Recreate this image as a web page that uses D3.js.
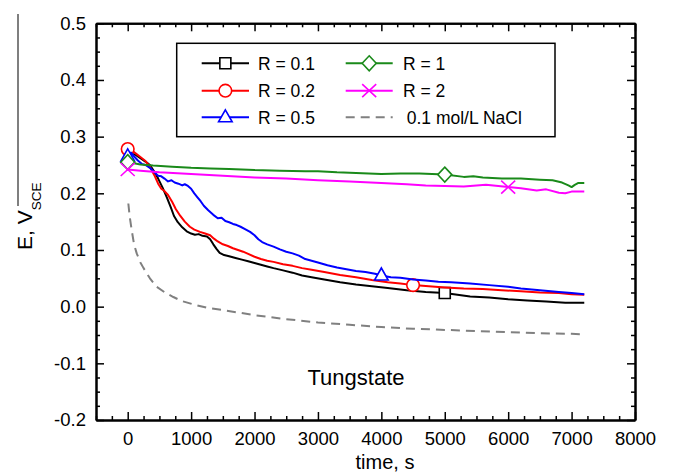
<!DOCTYPE html>
<html>
<head>
<meta charset="utf-8">
<script src="https://cdn.jsdelivr.net/npm/d3@7"></script>
<style>
  body { margin: 0; background: #fff; }
  text { font-family: Arial, "Liberation Sans", sans-serif; fill: #000; }
</style>
</head>
<body>
<svg id="chart" width="675" height="474"></svg>
<script>
// time (s), potential (V vs SCE)
const r01 = [[0,0.264],[50,0.27],[120,0.268],[200,0.262],[280,0.256],[350,0.25],[420,0.238],[480,0.226],[550,0.21],[620,0.192],[680,0.175],[730,0.16],[790,0.149],[860,0.14],[930,0.133],[1000,0.129],[1060,0.127],[1120,0.128],[1180,0.125],[1250,0.124],[1300,0.119],[1350,0.11],[1400,0.102],[1450,0.095],[1520,0.091],[1600,0.089],[1700,0.086],[1800,0.083],[1900,0.08],[2000,0.077],[2100,0.074],[2200,0.071],[2300,0.068],[2450,0.064],[2600,0.06],[2750,0.055],[2900,0.052],[3100,0.048],[3350,0.043],[3600,0.039],[3850,0.036],[4100,0.033],[4400,0.029],[4700,0.026],[5000,0.024],[5200,0.021],[5400,0.018],[5700,0.016],[6000,0.013],[6300,0.011],[6600,0.009],[6900,0.007],[7200,0.007]];
const r02 = [[0,0.278],[60,0.276],[130,0.27],[200,0.264],[280,0.257],[350,0.247],[420,0.232],[480,0.217],[530,0.208],[580,0.204],[636,0.197],[700,0.185],[760,0.172],[830,0.16],[900,0.15],[980,0.141],[1050,0.136],[1140,0.132],[1220,0.129],[1300,0.126],[1360,0.12],[1420,0.115],[1500,0.11],[1580,0.107],[1660,0.103],[1740,0.1],[1820,0.097],[1900,0.093],[2000,0.088],[2100,0.084],[2200,0.081],[2300,0.079],[2450,0.075],[2600,0.072],[2750,0.068],[2900,0.065],[3100,0.061],[3350,0.056],[3600,0.052],[3850,0.047],[4100,0.043],[4300,0.041],[4500,0.038],[4750,0.036],[5000,0.034],[5300,0.032],[5600,0.031],[5900,0.029],[6200,0.027],[6500,0.025],[6800,0.024],[7000,0.022],[7200,0.021]];
const r05 = [[0,0.265],[50,0.272],[110,0.264],[160,0.258],[220,0.252],[280,0.25],[350,0.245],[420,0.237],[480,0.231],[530,0.23],[580,0.226],[636,0.221],[690,0.223],[740,0.219],[800,0.217],[860,0.214],[900,0.216],[950,0.213],[1000,0.208],[1050,0.2],[1100,0.193],[1150,0.186],[1200,0.178],[1270,0.17],[1350,0.162],[1420,0.156],[1480,0.157],[1540,0.151],[1600,0.149],[1660,0.146],[1720,0.144],[1780,0.141],[1850,0.137],[1930,0.132],[2000,0.126],[2060,0.119],[2120,0.114],[2200,0.11],[2300,0.106],[2400,0.101],[2500,0.097],[2600,0.094],[2700,0.09],[2800,0.084],[2900,0.081],[3000,0.078],[3150,0.073],[3300,0.069],[3450,0.066],[3600,0.063],[3750,0.061],[3900,0.058],[4000,0.055],[4150,0.052],[4300,0.051],[4500,0.048],[4700,0.046],[4900,0.044],[5100,0.043],[5400,0.041],[5700,0.038],[6000,0.035],[6200,0.032],[6500,0.029],[6800,0.026],[7000,0.024],[7200,0.022]];
const r1 = [[0,0.255],[100,0.253],[200,0.251],[400,0.249],[700,0.247],[1000,0.245],[1300,0.244],[1600,0.243],[2000,0.241],[2400,0.24],[2800,0.239],[3000,0.239],[3300,0.237],[3600,0.236],[4000,0.234],[4300,0.235],[4600,0.235],[5000,0.233],[5300,0.229],[5450,0.23],[5600,0.228],[5900,0.226],[6200,0.226],[6500,0.224],[6700,0.223],[6850,0.219],[6950,0.214],[7000,0.211],[7050,0.215],[7100,0.218],[7200,0.218]];
const r2 = [[0,0.242],[200,0.24],[500,0.237],[1000,0.234],[1500,0.231],[2000,0.228],[2500,0.226],[3000,0.223],[3500,0.221],[4000,0.218],[4400,0.216],[4700,0.214],[5000,0.213],[5300,0.212],[5650,0.215],[6000,0.211],[6200,0.209],[6450,0.205],[6600,0.207],[6800,0.201],[6900,0.2],[7000,0.203],[7200,0.203]];
const nacl = [[10,0.182],[30,0.16],[63,0.135],[100,0.11],[142,0.094],[200,0.078],[250,0.068],[350,0.05],[457,0.035],[600,0.024],[720,0.017],[850,0.01],[1035,0.004],[1250,-0.002],[1500,-0.006],[2000,-0.015],[2500,-0.022],[3000,-0.028],[3500,-0.032],[4000,-0.036],[4500,-0.039],[5000,-0.041],[5500,-0.043],[6000,-0.045],[6500,-0.047],[7000,-0.048],[7200,-0.049]];

const seriesNames = ["R = 0.1", "R = 0.2", "R = 0.5", "R = 1", "R = 2", "0.1 mol/L NaCl"];
const markerTimes = [[5000], [0, 4500], [0, 4000], [0, 5000], [0, 6000], []];

const xTicks = [0, 1000, 2000, 3000, 4000, 5000, 6000, 7000, 8000];
const yTicks = [-0.2, -0.1, 0.0, 0.1, 0.2, 0.3, 0.4, 0.5];

const series = [
  {data: r01, color: "#000000", marker: "square"},
  {data: r02, color: "#ff0000", marker: "circle"},
  {data: r05, color: "#0000ff", marker: "triangle"},
  {data: r1, color: "#1a8a1a", marker: "diamond"},
  {data: r2, color: "#ff00ff", marker: "cross"},
  {data: nacl, color: "#808080", marker: null, dash: "9,6"}
];

const svg = d3.select("#chart");
const mLeft = 96, mRight = 635, mTop = 23.3, mBottom = 420;

const x = d3.scaleLinear().domain([-500, 8000]).range([mLeft, mRight]);
const y = d3.scaleLinear().domain([-0.2, 0.5]).range([mBottom, mTop]);

const xMinor = d3.range(-500, 8001, 250).filter(d => d % 1000 !== 0);
const yMinor = d3.range(-8, 21).map(d => d * 0.025).filter(d => Math.abs(Math.round(d * 40)) % 4 !== 0);

function styleAxis(g) {
  g.select(".domain").attr("stroke", "#000").attr("stroke-width", 2);
  g.selectAll(".tick line").attr("stroke", "#000").attr("stroke-width", 1.5);
  g.selectAll(".tick text").style("font-size", "18.5px").attr("fill", "#000");
}

// minor ticks
svg.append("g").attr("transform", `translate(0,${mBottom})`)
  .call(d3.axisBottom(x).tickValues(xMinor).tickSize(-4).tickSizeOuter(0).tickFormat(""))
  .call(styleAxis);
svg.append("g").attr("transform", `translate(0,${mTop})`)
  .call(d3.axisTop(x).tickValues(xMinor).tickSize(-4).tickSizeOuter(0).tickFormat(""))
  .call(styleAxis);
svg.append("g").attr("transform", `translate(${mLeft},0)`)
  .call(d3.axisLeft(y).tickValues(yMinor).tickSize(-4).tickSizeOuter(0).tickFormat(""))
  .call(styleAxis);
svg.append("g").attr("transform", `translate(${mRight},0)`)
  .call(d3.axisRight(y).tickValues(yMinor).tickSize(-4).tickSizeOuter(0).tickFormat(""))
  .call(styleAxis);

// major ticks
svg.append("g").attr("transform", `translate(0,${mBottom})`)
  .call(d3.axisBottom(x).tickValues(xTicks).tickSize(-8).tickSizeOuter(0).tickPadding(12).tickFormat(d3.format("d")))
  .call(styleAxis);
svg.append("g").attr("transform", `translate(0,${mTop})`)
  .call(d3.axisTop(x).tickValues(xTicks).tickSize(-8).tickSizeOuter(0).tickFormat(""))
  .call(styleAxis);
svg.append("g").attr("transform", `translate(${mLeft},0)`)
  .call(d3.axisLeft(y).tickValues(yTicks).tickSize(-8).tickSizeOuter(0).tickPadding(10).tickFormat(d3.format(".1f")))
  .call(styleAxis);
svg.append("g").attr("transform", `translate(${mRight},0)`)
  .call(d3.axisRight(y).tickValues(yTicks).tickSize(-8).tickSizeOuter(0).tickFormat(""))
  .call(styleAxis);

svg.selectAll(".tick text").text(function() { return d3.select(this).text().replace("\u2212", "-"); });

function drawMarker(g, type, cx, cy, color) {
  if (type === "circle") {
    g.append("circle").attr("cx", cx).attr("cy", cy).attr("r", 6.3)
      .attr("fill", "#fff").attr("stroke", color).attr("stroke-width", 1.6);
    return;
  }
  let p;
  if (type === "square") p = "M-5.5,-5.5H5.5V5.5H-5.5Z";
  if (type === "triangle") p = "M0,-7.5L6.8,4.5H-6.8Z";
  if (type === "diamond") p = "M0,-7.5L7,0L0,7.5L-7,0Z";
  if (type === "cross") p = "M-7,-6.5L7,6.5M-7,6.5L7,-6.5";
  g.append("path").attr("d", p).attr("transform", `translate(${cx},${cy})`)
    .attr("fill", type === "cross" ? "none" : "#fff").attr("stroke", color).attr("stroke-width", 1.6);
}

const line = d3.line().x(d => x(d[0])).y(d => y(d[1]));

const plot = svg.append("g");
series.forEach((s, i) => {
  plot.append("path").datum(s.data).attr("d", line)
    .attr("fill", "none").attr("stroke", s.color).attr("stroke-width", 2)
    .attr("stroke-dasharray", s.dash || null).attr("stroke-linejoin", "round");
  markerTimes[i].forEach(t => {
    const pt = s.data.find(d => d[0] === t);
    if (pt) drawMarker(plot, s.marker, x(pt[0]), y(pt[1]), s.color);
  });
});

// legend
const lg = svg.append("g");
lg.append("rect").attr("x", 176.7).attr("y", 43.3).attr("width", 378.3).attr("height", 93.4)
  .attr("fill", "#fff").attr("stroke", "#000").attr("stroke-width", 1.5);
const rowsY = [63.3, 90.7, 117.3];
series.forEach((s, i) => {
  const col = Math.floor(i / 3), row = i % 3;
  const x0 = col === 0 ? 201.7 : 345.7, x1 = col === 0 ? 249 : 392.7;
  const ly = rowsY[row];
  lg.append("line").attr("x1", x0).attr("x2", x1).attr("y1", ly).attr("y2", ly)
    .attr("stroke", s.color).attr("stroke-width", 2).attr("stroke-dasharray", s.dash || null);
  if (s.marker) drawMarker(lg, s.marker, (x0 + x1) / 2, ly, s.color);
  lg.append("text").attr("x", s.dash ? 406.7 : (col === 0 ? 258 : 403)).attr("y", ly + 6.5)
    .style("font-size", "17.5px").text(seriesNames[i]);
});

// annotation and titles
svg.append("text").attr("x", 356).attr("y", 384.5).attr("text-anchor", "middle")
  .style("font-size", "22px").text("Tungstate");

svg.append("text").attr("x", 385).attr("y", 469).attr("text-anchor", "middle")
  .style("font-size", "20px").text("time, s");

const yl = svg.append("text").attr("transform", "translate(32,250) rotate(-90)")
  .attr("text-anchor", "start").style("font-size", "21px");
yl.append("tspan").text("E, V");
yl.append("tspan").attr("dy", 9).style("font-size", "13.5px").text("SCE");

svg.append("line").attr("x1", 18).attr("x2", 18).attr("y1", 14).attr("y2", 206)
  .attr("stroke", "#555").attr("stroke-width", 1.5);
</script>
</body>
</html>
